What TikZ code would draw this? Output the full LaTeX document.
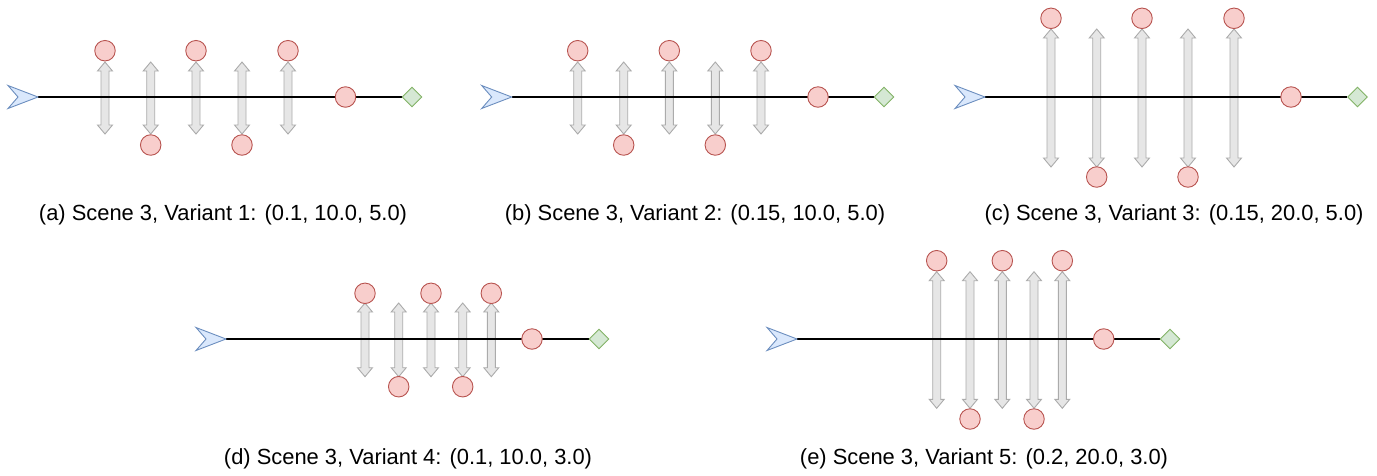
\documentclass[tikz,border=0pt]{standalone}
\usepackage{fontspec}
\setmainfont{Liberation Sans}
\usetikzlibrary{shapes.geometric}
\definecolor{redfill}{HTML}{F8CECC}
\definecolor{redline}{HTML}{B85450}
\definecolor{bluefill}{HTML}{DAE8FC}
\definecolor{blueline}{HTML}{6C8EBF}
\definecolor{greenfill}{HTML}{D5E8D4}
\definecolor{greenline}{HTML}{82B366}
\definecolor{arrfill}{HTML}{E6E6E6}
\definecolor{arrline}{HTML}{ABABAB}
\pgfdeclarelayer{bg}
\pgfdeclarelayer{mid}
\pgfsetlayers{bg,mid,main}
\tikzset{
  agent/.style={circle, draw=redline, fill=redfill, line width=0.9pt, minimum size=20.5pt, inner sep=0pt},
  goal/.style={diamond, draw=greenline, fill=greenfill, line width=0.9pt, minimum size=20pt, inner sep=0pt},
  startmk/.style={draw=blueline, fill=bluefill, line width=0.9pt, line join=miter},
  dblarrow/.style={draw=arrline, fill=arrfill, line width=0.9pt, line join=miter},
  track/.style={draw=black, line width=1.6pt},
  caption/.style={font=\fontsize{21.9}{26}\selectfont, inner sep=0pt}
}
% double arrow: x, top y, bottom y
\newcommand\dblarr[3]{%
  \begin{pgfonlayer}{bg}
  \draw[dblarrow] (#1-4,#2+9) -- (#1-7.5,#2+9) -- (#1,#2) -- (#1+7.5,#2+9) -- (#1+4,#2+9)
    -- (#1+4,#3-9) -- (#1+7.5,#3-9) -- (#1,#3) -- (#1-7.5,#3-9) -- (#1-4,#3-9) -- cycle;
  \end{pgfonlayer}}
% start marker: name, left x, centre y
\newcommand\startmark[3]{%
  \draw[startmk] (#2,#3-11.5) -- (#2+30,#3) -- (#2,#3+11.5) -- (#2+10,#3) -- cycle;
  \coordinate (#1) at (#2+30,#3);}
\begin{document}
\begin{tikzpicture}[x=1pt,y=-1pt]
\useasboundingbox (0,0) rectangle (1377,475);

% ---------- (a)
\startmark{sa}{8}{97}
\node[goal] (ga) at (412,97) {};
\node[agent] (la) at (345.5,97) {};
\node[agent] (ta1) at (105,50.7) {};
\node[agent] (ta2) at (196,50.7) {};
\node[agent] (ta3) at (288,50.7) {};
\node[agent] (ba1) at (150.7,145) {};
\node[agent] (ba2) at (242,145) {};
\begin{pgfonlayer}{mid}\draw[track] (sa) -- (ga.west);\end{pgfonlayer}
\dblarr{105}{62}{134}\dblarr{150.7}{62}{134}\dblarr{196}{62}{134}\dblarr{242}{62}{134}\dblarr{288}{62}{134}
\node[caption] (capa) at (223,214.5) {(a) Scene 3, Variant 1: (0.1, 10.0, 5.0)};

% ---------- (b)
\startmark{sb}{481.7}{97}
\node[goal] (gb) at (884,97) {};
\node[agent] (lb) at (818,97) {};
\node[agent] (tb1) at (577.7,50.7) {};
\node[agent] (tb2) at (669.3,50.7) {};
\node[agent] (tb3) at (761,50.7) {};
\node[agent] (bb1) at (623.7,145) {};
\node[agent] (bb2) at (715.3,145) {};
\begin{pgfonlayer}{mid}\draw[track] (sb) -- (gb.west);\end{pgfonlayer}
\dblarr{577.7}{62}{134}\dblarr{623.7}{62}{134}\dblarr{669.3}{62}{134}\dblarr{715.3}{62}{134}\dblarr{761}{62}{134}
\node[caption] (capb) at (695,214.5) {(b) Scene 3, Variant 2: (0.15, 10.0, 5.0)};

% ---------- (c)
\startmark{sc}{955}{97}
\node[goal] (gc) at (1357.5,97) {};
\node[agent] (lc) at (1291,97) {};
\node[agent] (tc1) at (1051,18.3) {};
\node[agent] (tc2) at (1142,18.3) {};
\node[agent] (tc3) at (1234,18.3) {};
\node[agent] (bc1) at (1096.7,177) {};
\node[agent] (bc2) at (1188,177) {};
\begin{pgfonlayer}{mid}\draw[track] (sc) -- (gc.west);\end{pgfonlayer}
\dblarr{1051}{29}{167}\dblarr{1096.7}{29}{167}\dblarr{1142}{29}{167}\dblarr{1188}{29}{167}\dblarr{1234}{29}{167}
\node[caption] (capc) at (1174,214.5) {(c) Scene 3, Variant 3: (0.15, 20.0, 5.0)};

% ---------- (d)
\startmark{sd}{196}{339}
\node[goal] (gd) at (599,339) {};
\node[agent] (ld) at (532,339) {};
\node[agent] (td1) at (365,293.3) {};
\node[agent] (td2) at (431,293.3) {};
\node[agent] (td3) at (491.3,293.3) {};
\node[agent] (bd1) at (398.7,386.7) {};
\node[agent] (bd2) at (462.7,386.7) {};
\begin{pgfonlayer}{mid}\draw[track] (sd) -- (gd.west);\end{pgfonlayer}
\dblarr{365}{303}{376.7}\dblarr{398.7}{303}{376.7}\dblarr{431}{303}{376.7}\dblarr{462.7}{303}{376.7}\dblarr{491.3}{303}{376.7}
\node[caption] (capd) at (408,458.5) {(d) Scene 3, Variant 4: (0.1, 10.0, 3.0)};

% ---------- (e)
\startmark{se}{767}{339}
\node[goal] (ge) at (1170,339) {};
\node[agent] (le) at (1103.7,339) {};
\node[agent] (te1) at (936.7,260.7) {};
\node[agent] (te2) at (1002.3,260.7) {};
\node[agent] (te3) at (1062.3,260.7) {};
\node[agent] (be1) at (970,419) {};
\node[agent] (be2) at (1034,419) {};
\begin{pgfonlayer}{mid}\draw[track] (se) -- (ge.west);\end{pgfonlayer}
\dblarr{936.7}{271.7}{408.3}\dblarr{970}{271.7}{408.3}\dblarr{1002.3}{271.7}{408.3}\dblarr{1034}{271.7}{408.3}\dblarr{1062.3}{271.7}{408.3}
\node[caption] (cape) at (984,458.5) {(e) Scene 3, Variant 5: (0.2, 20.0, 3.0)};
\end{tikzpicture}
\end{document}
